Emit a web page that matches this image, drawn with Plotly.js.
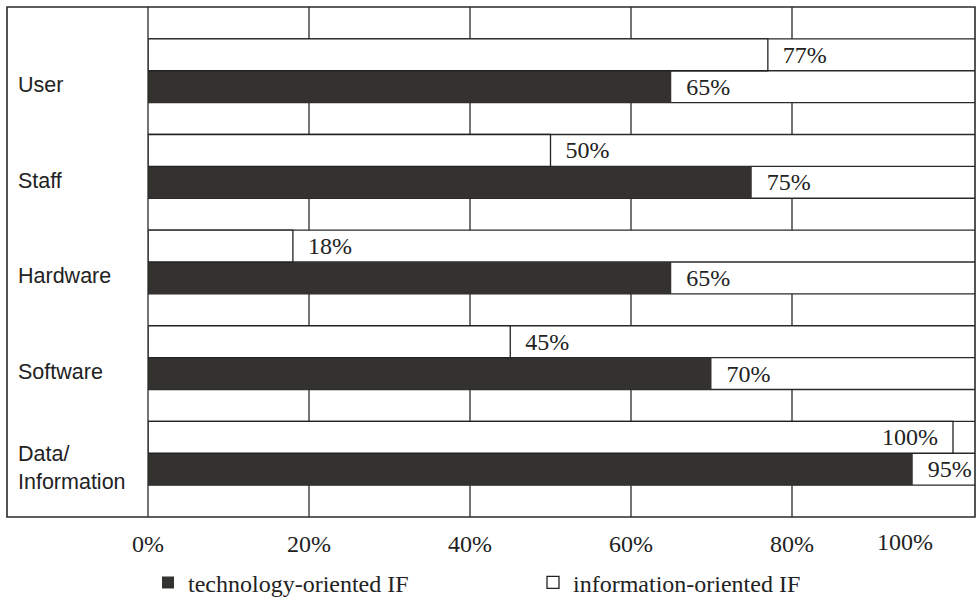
<!DOCTYPE html>
<html>
<head>
<meta charset="utf-8">
<script src="https://cdn.plot.ly/plotly-3.0.1.min.js"></script>
<style>html,body{margin:0;padding:0;background:#fff;}#chart{width:979px;height:609px;}</style>
</head>
<body>
<div id="chart"></div>
<script>
const categories = ['User', 'Staff', 'Hardware', 'Software', 'Data/<br>Information'];
const techValues = [65, 75, 65, 70, 95];
const infoValues = [77, 50, 18, 45, 100];
const xTickValues = [0, 20, 40, 60, 80, 100];
const xTickLabels = ['0%', '20%', '40%', '60%', '80%', '100%'];
const seriesNames = ['technology-oriented IF', 'information-oriented IF'];

const n = categories.length;
const NROWS = 3 * n + 1;
const infoY = categories.map((c, i) => NROWS - (3 * i + 1) - 0.5);
const techY = categories.map((c, i) => NROWS - (3 * i + 2) - 0.5);

const serif = 'Liberation Serif, Times New Roman, serif';
const sans = 'Liberation Sans, Arial, sans-serif';
const ink = '#222';
const dark = '#33322e';
const pad = '\u2002';

const traces = [
  {
    type: 'bar', orientation: 'h', name: seriesNames[0],
    x: techValues, y: techY, width: 1,
    marker: {color: dark, line: {width: 0}},
    text: techValues.map(v => pad + v + '%'),
    textposition: 'outside', constraintext: 'none', cliponaxis: false,
    textfont: {family: serif, size: 24, color: ink},
    hoverinfo: 'x'
  },
  {
    type: 'bar', orientation: 'h', name: seriesNames[1],
    x: infoValues, y: infoY, width: 1,
    marker: {color: '#ffffff', line: {color: '#222', width: 1.3}},
    text: infoValues.map(v => v >= 100 ? v + '%' + pad : pad + v + '%'),
    textposition: infoValues.map(v => v >= 100 ? 'inside' : 'outside'),
    insidetextanchor: 'end',
    constraintext: 'none', cliponaxis: false,
    textfont: {family: serif, size: 24, color: ink},
    insidetextfont: {family: serif, size: 24, color: ink},
    hoverinfo: 'x'
  }
];

const L = 148, R = 4, T = 7, B = 89;
const plotW = 979 - L - R;
const shapes = [];
const lineStyle = {color: '#2a2a2a', width: 1.3};
shapes.push({type: 'rect', xref: 'paper', yref: 'paper', x0: -(L - 7) / plotW, x1: 1, y0: 0, y1: 1, line: {color: '#2a2a2a', width: 1.6}, layer: 'above'});
shapes.push({type: 'line', xref: 'paper', yref: 'paper', x0: 0, x1: 0, y0: 0, y1: 1, line: lineStyle, layer: 'above'});
for (let r = 1; r < NROWS; r++) {
  shapes.push({type: 'line', xref: 'paper', yref: 'y', x0: 0, x1: 1, y0: r, y1: r, line: lineStyle, layer: 'below'});
}
for (let r = 0; r < NROWS; r += 3) {
  const yTop = NROWS - r, yBot = NROWS - r - 1;
  xTickValues.slice(1, -1).forEach(v => {
    shapes.push({type: 'line', xref: 'x', yref: 'y', x0: v, x1: v, y0: yBot, y1: yTop, line: lineStyle, layer: 'below'});
  });
}

const annotations = categories.map((c, i) => ({
  text: c, xref: 'paper', yref: 'y', x: -(L - 16) / plotW, y: techY[i] + 0.05,
  xanchor: 'left', yanchor: 'middle', align: 'left', showarrow: false,
  font: {family: sans, size: 21.5, color: ink}
}));

// last tick label: in the reference it sits left of its tick, next to the frame edge
const last = xTickValues.length - 1;
annotations.push({
  text: xTickLabels[last], xref: 'x', yref: 'paper', x: xTickValues[last], y: 0,
  xanchor: 'center', yanchor: 'top', xshift: -48, yshift: -10, showarrow: false,
  font: {family: serif, size: 24, color: ink}
});

const layout = {
  width: 979, height: 609,
  margin: {l: L, r: R, t: T, b: B, pad: 0},
  paper_bgcolor: '#ffffff', plot_bgcolor: '#ffffff',
  barmode: 'overlay',
  showlegend: true,
  legend: {
    orientation: 'h', x: 0.0, xanchor: 'left', y: -0.085, yanchor: 'top',
    font: {family: serif, size: 24, color: ink},
    entrywidth: 340, itemwidth: 30, traceorder: 'normal'
  },
  xaxis: {
    range: [0, plotW / 8.05], tickvals: xTickValues.slice(0, last), ticktext: xTickLabels.slice(0, last),
    showgrid: false, zeroline: false, showline: false, ticks: '',
    ticklabelstandoff: 10,
    tickfont: {family: serif, size: 24, color: ink}, fixedrange: true
  },
  yaxis: {
    range: [0, NROWS], showticklabels: false, showgrid: false, zeroline: false,
    showline: false, ticks: '', fixedrange: true
  },
  shapes: shapes,
  annotations: annotations
};

Plotly.newPlot('chart', traces, layout, {displayModeBar: false, staticPlot: true});
</script>
</body>
</html>
